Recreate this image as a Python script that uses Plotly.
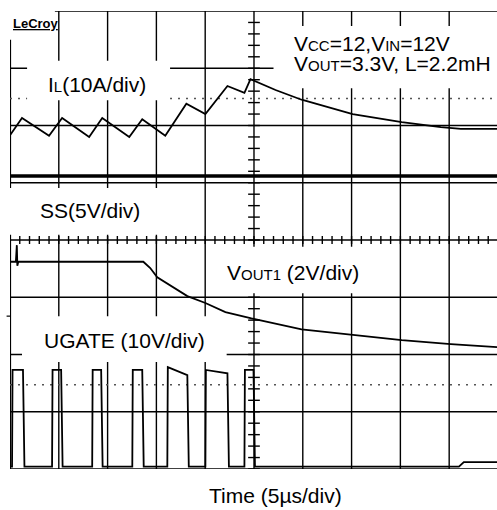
import plotly.graph_objects as go

# time in microseconds (5 us/div), levels in screen divisions (0 = bottom, 8 = top)
il_t = [0, 1.23, 4.0, 5.34, 8.11, 9.45, 12.22, 13.55, 15.91, 18.07, 20.02, 22.28,
        24.02, 24.64, 27.21, 29.88, 35.11, 40.14, 44.15, 46.2, 49.9]
il_v = [5.83, 6.13, 5.82, 6.13, 5.80, 6.13, 5.80, 6.11, 5.82, 6.38, 6.20, 6.69,
        6.57, 6.81, 6.62, 6.45, 6.20, 6.06, 5.97, 5.94, 5.94]

ss_t = [0, 49.9]
ss_v = [5.12, 5.12]

vout_t = [0, 0.6, 0.7, 0.75, 0.85, 13.66, 14.37, 15.09, 18.17, 20.02, 22.07,
          23.61, 24.74, 29.88, 35.11, 40.14, 45.17, 49.9]
vout_v = [3.62, 3.62, 3.91, 3.55, 3.62, 3.62, 3.51, 3.35, 3.02, 2.90, 2.74,
          2.67, 2.63, 2.44, 2.34, 2.25, 2.18, 2.13]

ugate_rise = [0.21, 4.31, 8.42, 12.53, 16.12, 20.02, 24.02]
ugate_fall = [1.33, 5.24, 9.34, 13.55, 18.17, 22.28, 24.95]
ugate_top_start = [1.73, 1.73, 1.73, 1.73, 1.78, 1.73, 1.73]
ugate_top_end = [1.73, 1.73, 1.73, 1.73, 1.64, 1.67, 1.73]
ugate_low = 0.04
ugate_tail_t = [46.0, 46.5, 49.9]
ugate_tail_v = [0.04, 0.12, 0.12]

FONT = "Liberation Sans, Arial, sans-serif"
XMAX = 49.9

ug_t, ug_v = [0], [ugate_low]
for r, f, a, b in zip(ugate_rise, ugate_fall, ugate_top_start, ugate_top_end):
    ug_t += [r, r + 0.05, f, f + 0.15]
    ug_v += [ugate_low, a, b, ugate_low]
ug_t += ugate_tail_t
ug_v += ugate_tail_v

fig = go.Figure()
line = dict(color="black", width=1.8)
fig.add_trace(go.Scatter(x=il_t, y=il_v, mode="lines", line=line))
fig.add_trace(go.Scatter(x=ss_t, y=ss_v, mode="lines", line=dict(color="black", width=3.5)))
fig.add_trace(go.Scatter(x=vout_t, y=vout_v, mode="lines", line=line))
fig.add_trace(go.Scatter(x=ug_t, y=ug_v, mode="lines", line=line))

shapes = []
grid = dict(color="black", width=1.4)
for i in range(10):
    shapes.append(dict(type="line", x0=i * 5, x1=i * 5, y0=0, y1=8, line=grid, layer="below"))
for j in range(9):
    shapes.append(dict(type="line", x0=0, x1=XMAX, y0=j, y1=j, line=grid, layer="below"))
shapes.append(dict(type="line", x0=0, x1=0, y0=0, y1=8, line=dict(color="black", width=2.2), layer="below"))
# centre graticule ticks
for i in range(50):
    shapes.append(dict(type="line", x0=i, x1=i, y0=3.93, y1=4.07, line=grid, layer="below"))
for j in range(40):
    shapes.append(dict(type="line", x0=24.4, x1=25.6, y0=j * 0.2, y1=j * 0.2, line=grid, layer="below"))
# dotted reference levels
for lv in [6.47, 1.47]:
    shapes.append(dict(type="line", x0=0, x1=XMAX, y0=lv, y1=lv,
                       line=dict(color="#555", width=1.5, dash="2px,6px"), layer="below"))
# white label boxes
boxes = [(1.75, 16.4, 6.44, 7.13), (0, 17.0, 4.09, 4.91), (21.0, 37.0, 3.07, 3.88),
         (1.23, 22.2, 1.87, 2.67), (27.0, XMAX, 6.65, 7.74), (0, 4.6, 7.5, 8)]
for x0, x1, y0, y1 in boxes:
    shapes.append(dict(type="rect", x0=x0, x1=x1, y0=y0, y1=y1, fillcolor="white",
                       line=dict(width=0), layer="below"))
shapes.append(dict(type="line", xref="paper", yref="y", x0=-0.007, x1=0, y0=2.67, y1=2.67,
                   line=dict(color="black", width=1.2)))

sm = "<span style='font-size:15px'>%s</span>"
annotations = [
    dict(x=8.9, y=6.71, text="I" + sm % "L" + "(10A/div)"),
    dict(x=8.2, y=4.52, text="SS(5V/div)"),
    dict(x=29.0, y=3.44, text="V" + sm % "OUT1" + " (2V/div)"),
    dict(x=11.7, y=2.25, text="UGATE (10V/div)"),
    dict(x=28.9, y=7.44, text="V" + sm % "CC" + "=12,V" + sm % "IN" + "=12V", xanchor="left"),
    dict(x=28.9, y=7.09, text="V" + sm % "OUT" + "=3.3V, L=2.2mH", xanchor="left"),
    dict(x=0.15, y=7.79, text="<b><u>LeCroy</u></b>", xanchor="left", font=dict(size=13, family=FONT, color="black")),
]
for a in annotations:
    a.setdefault("xanchor", "center")
    a.setdefault("font", dict(size=21, family=FONT, color="black"))
    a.update(xref="x", yref="y", yanchor="middle", showarrow=False)
annotations.append(dict(x=0.546, y=-0.057, xref="paper", yref="paper", text="Time (5\u00b5s/div)",
                        showarrow=False, xanchor="center", yanchor="middle",
                        font=dict(size=21, family=FONT, color="black")))

fig.update_layout(
    width=497, height=510,
    margin=dict(l=10, r=0, t=11, b=41),
    paper_bgcolor="white", plot_bgcolor="white",
    showlegend=False,
    shapes=shapes, annotations=annotations,
    xaxis=dict(range=[0, XMAX], showgrid=False, zeroline=False, showticklabels=False, fixedrange=True),
    yaxis=dict(range=[0, 8], showgrid=False, zeroline=False, showticklabels=False, fixedrange=True),
)

fig.write_html("out.html", config=dict(displayModeBar=False),
               post_script="document.body.style.margin='0';document.body.style.overflow='hidden';")
